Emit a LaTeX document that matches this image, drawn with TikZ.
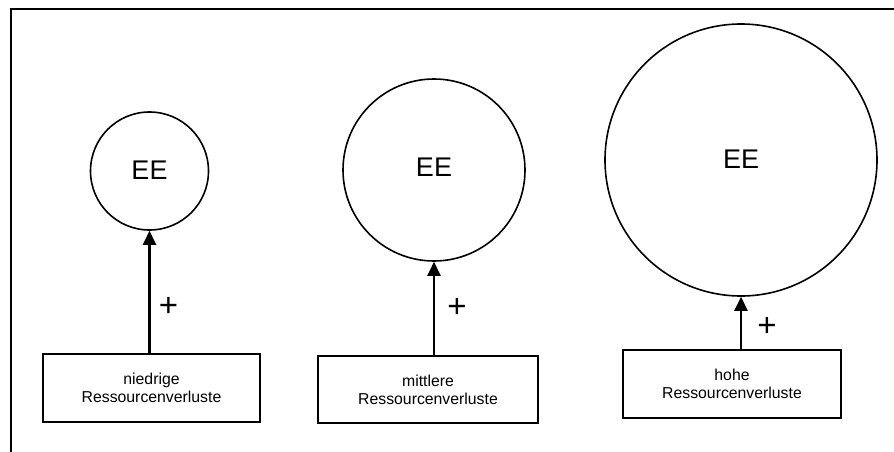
\documentclass[tikz,border=0pt]{standalone}
\usepackage{fontspec}
\setmainfont{Liberation Sans}
\usetikzlibrary{arrows.meta}
\begin{document}
\begin{tikzpicture}[x=1pt,y=-1pt,
  ring/.style={draw, circle, line width=1.6pt, inner sep=0pt, font=\fontsize{27}{30}\selectfont},
  lossbox/.style={draw, rectangle, line width=1.8pt, inner sep=0pt, align=center, font=\fontsize{15.8}{18.2}\selectfont},
  arr/.style={line width=2.5pt, -{Triangle[length=14pt,width=13pt]}},
  sign/.style={inner sep=0pt, font=\fontsize{33}{36}\selectfont}]
\useasboundingbox (0,0) rectangle (894,452);
% outer frame, running off the page at right and bottom
\draw[line width=2.4pt] (894,9) -- (11,9) -- (11,452);

% EE circles of growing size
\node[ring, minimum size=118pt] (c1) at (149.5,171) {\raisebox{1pt}{EE}};
\node[ring, minimum size=182pt] (c2) at (434,170) {\raisebox{6pt}{EE}};
\node[ring, minimum size=272pt] (c3) at (741,160) {\raisebox{2pt}{EE}};

% resource-loss boxes
\node[lossbox, minimum width=217pt, minimum height=68pt] (b1) at (151.5,388) {niedrige\\Ressourcenverluste};
\node[lossbox, minimum width=220pt, minimum height=67pt] (b2) at (428,389.5) {mittlere\\Ressourcenverluste};
\node[lossbox, minimum width=218pt, minimum height=68pt] (b3) at (732,384) {hohe\\Ressourcenverluste};

% positive influence arrows
\draw[arr] (b1.north -| c1.south) -- (c1.south);
\draw[arr] (b2.north -| c2.south) -- (c2.south);
\draw[arr] (b3.north -| c3.south) -- (c3.south);

\node[sign] (p1) at (168.5,307) {+};
\node[sign] (p2) at (457,308) {+};
\node[sign] (p3) at (767,327) {+};
\end{tikzpicture}
\end{document}
